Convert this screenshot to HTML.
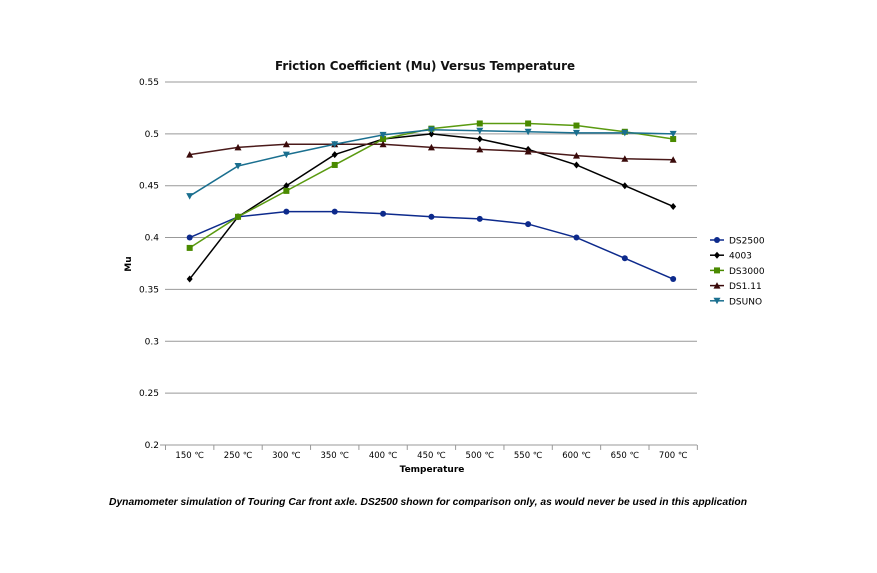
<!DOCTYPE html>
<html><head><meta charset="utf-8"><style>
html,body{margin:0;padding:0;background:#fff;width:877px;height:573px;overflow:hidden}
svg text{font-family:"DejaVu Sans","Liberation Sans",sans-serif}
</style></head><body>
<svg id="s" width="877" height="573" xmlns="http://www.w3.org/2000/svg">
<text x="425" y="70" text-anchor="middle" font-size="12" font-weight="bold" fill="#111" textLength="300" lengthAdjust="spacingAndGlyphs">Friction Coefficient (Mu) Versus Temperature</text>
<text x="131" y="264" font-size="9" font-weight="bold" transform="rotate(-90 131 264)" text-anchor="middle">Mu</text>
<text x="432" y="472" text-anchor="middle" font-size="9" font-weight="bold">Temperature</text>
<text x="428" y="505" text-anchor="middle" font-size="10" font-weight="bold" font-style="italic" style="font-family:'Liberation Sans',sans-serif" textLength="638" lengthAdjust="spacingAndGlyphs">Dynamometer simulation of Touring Car front axle. DS2500 shown for comparison only, as would never be used in this application</text>
<g id="g"></g>
</svg>
<script>
var g=document.getElementById('g'),h='';
function Y(v){return 82+(0.55-v)*1037;}
var x0=165.5,w=48.35;function X(i){return x0+w*(i+0.5);}
var yl=[0.55,0.5,0.45,0.4,0.35,0.3,0.25,0.2],lbl=['0.55','0.5','0.45','0.4','0.35','0.3','0.25','0.2'];
yl.forEach(function(v,k){var y=Y(v);h+='<line x1="'+(k==7?160:165)+'" x2="697" y1="'+y+'" y2="'+y+'" stroke="#999" stroke-width="1"/>';
h+='<text x="159" y="'+(y+3)+'" text-anchor="end" font-size="9">'+lbl[k]+'</text>';});
var cats=['150','250','300','350','400','450','500','550','600','650','700'];
for(var i=0;i<=11;i++){var x=x0+w*i;h+='<line x1="'+x+'" x2="'+x+'" y1="'+Y(0.2)+'" y2="'+(Y(0.2)+5)+'" stroke="#999"/>';}
cats.forEach(function(c,i){h+='<text x="'+X(i)+'" y="'+(Y(0.2)+13)+'" text-anchor="middle" font-size="8.5">'+c+' ℃</text>';});
var S=[
['DS2500','#0d2a8c','c',[.40,.42,.425,.425,.423,.42,.418,.413,.40,.38,.36]],
['4003','#000','d',[.36,.42,.45,.48,.495,.50,.495,.485,.47,.45,.43]],
['DS3000','#4a8a00','s',[.39,.42,.445,.47,.495,.505,.51,.51,.508,.502,.495]],
['DS1.11','#3a0a0a','t',[.48,.487,.49,.49,.49,.487,.485,.483,.479,.476,.475]],
['DSUNO','#1a6f8f','v',[.44,.469,.48,.49,.499,.504,.503,.502,.501,.501,.500]]];
var lineCol={'DS3000':'#5a9a10','DS1.11':'#4a1a1a'};
function mk(t,x,y,c){if(t=='c')return '<circle cx="'+x+'" cy="'+y+'" r="3" fill="'+c+'"/>';
if(t=='d')return '<path d="M'+x+' '+(y-3.5)+'L'+(x+3)+' '+y+'L'+x+' '+(y+3.5)+'L'+(x-3)+' '+y+'Z" fill="'+c+'"/>';
if(t=='s')return '<rect x="'+(x-3)+'" y="'+(y-3)+'" width="6" height="6" fill="'+c+'"/>';
if(t=='t')return '<path d="M'+x+' '+(y-3.5)+'L'+(x+3.5)+' '+(y+3)+'L'+(x-3.5)+' '+(y+3)+'Z" fill="'+c+'"/>';
return '<path d="M'+(x-3.5)+' '+(y-3)+'L'+(x+3.5)+' '+(y-3)+'L'+x+' '+(y+3.5)+'Z" fill="'+c+'"/>';}
S.forEach(function(s,k){var p=s[3].map(function(v,i){return X(i)+','+Y(v);}).join(' ');
h+='<polyline points="'+p+'" fill="none" stroke="'+(lineCol[s[0]]||s[1])+'" stroke-width="1.5"/>';
s[3].forEach(function(v,i){h+=mk(s[2],X(i),Y(v),s[1]);});
var ly=240+k*15.2;h+='<line x1="710" x2="724" y1="'+ly+'" y2="'+ly+'" stroke="'+s[1]+'" stroke-width="1.5"/>'+mk(s[2],717,ly,s[1]);
h+='<text x="729" y="'+(ly+3.5)+'" font-size="9">'+s[0]+'</text>';});
g.innerHTML=h;
</script>
</body></html>
